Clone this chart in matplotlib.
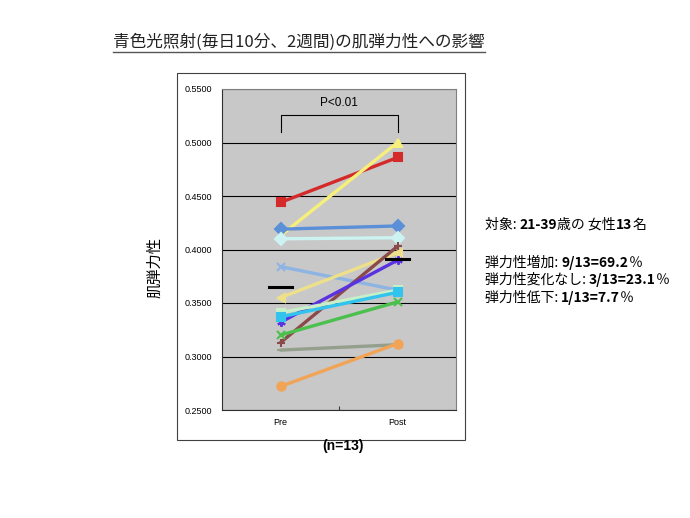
import numpy as np
import matplotlib
matplotlib.use("Agg")
import matplotlib.pyplot as plt
from matplotlib.lines import Line2D
from matplotlib.patches import Rectangle

plt.rcParams['font.family'] = ['Noto Sans CJK JP', 'DejaVu Sans']

# data
phases = ["Pre", "Post"]
pre = [0.444, 0.413, 0.419, 0.410, 0.384, 0.355, 0.313, 0.332, 0.341, 0.337, 0.320, 0.306, 0.272]
post = [0.486, 0.500, 0.422, 0.411, 0.362, 0.397, 0.403, 0.390, 0.362, 0.360, 0.351, 0.311, 0.312]
colors = ["#D42A2A", "#F6F07A", "#5B8FD8", "#CCF2F2", "#8DB4E2", "#EEE08A", "#8A4A4A",
          "#5A32E0", "#C8F0C8", "#33C4EE", "#4CC04C", "#94A08C", "#F2A456"]
markers = ["s", "^", "D", "D", "x", "<", "+", (6, 2, 0), "s", "s", "x", "_", "o"]
means = [0.365, 0.391]
yticks = [0.25, 0.30, 0.35, 0.40, 0.45, 0.50, 0.55]

W, H = 690, 518
fig = plt.figure(figsize=(W / 100, H / 100), dpi=100)

# outer chart frame
fig.patches.append(Rectangle((177 / W, 1 - 440 / H), 288 / W, 367 / H, transform=fig.transFigure,
                             facecolor="white", edgecolor="#404040", lw=0.8, zorder=-1))

ax = fig.add_axes([222 / W, 1 - 410 / H, 234 / W, 321 / H])
ax.set_zorder(2)
ax.set_facecolor("#C8C8C8")
ax.set_xlim(0, 2)
ax.set_ylim(0.25, 0.55)
ax.set_yticks(yticks)
ax.set_yticklabels([f"{v:.4f}" for v in yticks], fontsize=6.5, family="Liberation Sans")
ax.yaxis.grid(True, color="black", lw=0.8)
ax.set_axisbelow(True)
ax.tick_params(axis="y", length=0, pad=7)
ax.set_xticks([1])
ax.set_xticklabels([])
ax.tick_params(axis="x", direction="in", length=3, color="#404040")
for i, p in enumerate(phases):
    ax.text(i + 0.5, -0.04, p, transform=ax.get_xaxis_transform(), ha="center", va="center",
            fontsize=6.5, family="Liberation Sans")
for s in ax.spines.values():
    s.set_color("#808080")
    s.set_linewidth(0.8)
ax.spines["left"].set_color("#303030")
ax.spines["bottom"].set_color("#303030")

x = [0.5, 1.5]
for a, b, c, m in zip(pre, post, colors, markers):
    ax.plot(x, [a, b], color=c, lw=2.4, marker=m, markersize=6,
            markeredgecolor=c, markeredgewidth=1.5, solid_capstyle="round")

# mean bars
for xi, mv in zip(x, means):
    ax.plot([xi - 0.1, xi + 0.1], [mv, mv], color="black", lw=2.2, zorder=5)

# significance bracket
ax.plot([0.5, 0.5, 1.5, 1.5], [0.5098, 0.5257, 0.5257, 0.5098], color="black", lw=0.8)
ax.text(1.0, 0.537, "P<0.01", ha="center", va="center", fontsize=8.5, family="Liberation Sans")

# title with underline
title = fig.text(299 / W, 1 - 42 / H, "青色光照射(毎日10分、2週間)の肌弾力性への影響",
                 ha="center", va="center", fontsize=12, color="#222222")
fig.text(155 / W, 1 - 267 / H, "肌弾力性", rotation=90, ha="center", va="center", fontsize=11)
fig.text(343 / W, 1 - 446 / H, "(n=13)", ha="center", va="center", fontsize=10,
         fontweight="bold", family="Liberation Sans")

fig.canvas.draw()
renderer = fig.canvas.get_renderer()
bb = title.get_window_extent(renderer)
uy = bb.y0 - 1
fig.lines.append(Line2D([bb.x0 / W, bb.x1 / W], [uy / H, uy / H], transform=fig.transFigure,
                        color="#555555", lw=1.0))


def rich_line(xp, yp, parts):
    xf = xp / W
    for s, w in parts:
        t = fig.text(xf, 1 - yp / H, s, ha="left", va="center", fontsize=10, fontweight=w)
        xf += t.get_window_extent(renderer).width / W


rich_line(485, 225, [("対象: ", "normal"), ("21-39", "bold"), ("歳の 女性", "normal"),
                     ("13", "bold"), ("名", "normal")])
rich_line(485, 263, [("弾力性増加: ", "normal"), ("9/13=69.2", "bold"), ("％", "normal")])
rich_line(485, 280, [("弾力性変化なし: ", "normal"), ("3/13=23.1", "bold"), ("％", "normal")])
rich_line(485, 298, [("弾力性低下: ", "normal"), ("1/13=7.7", "bold"), ("％", "normal")])

fig.savefig("out.png", dpi=100)
